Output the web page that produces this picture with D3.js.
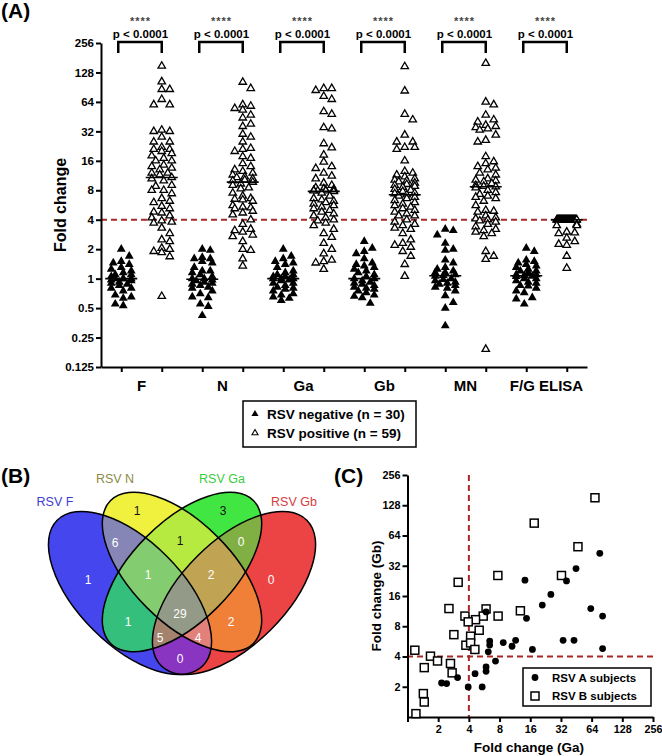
<!DOCTYPE html>
<html>
<head>
<meta charset="utf-8">
<script src="https://cdn.jsdelivr.net/npm/d3@7"></script>
<style>
  body { margin: 0; background: #fff; }
  svg { display: block; }
</style>
</head>
<body>
<div id="chart"></div>
<script>
var FONT = "Arial, 'Liberation Sans', Helvetica, sans-serif";

// ---- data, panel A (fold change per antigen)
var groups = ['F', 'N', 'Ga', 'Gb', 'MN', 'F/G ELISA'];
var legendA = ['RSV negative (n = 30)', 'RSV positive (n = 59)'];
var pText = 'p < 0.0001';
var starText = '****';
var yTicksA = [0.125, 0.25, 0.5, 1, 2, 4, 8, 16, 32, 64, 128, 256];
var cutoff = 4;

var fNeg = [2.0, 1.7, 1.5, 1.45, 1.4, 1.3, 1.25, 1.2, 1.15, 1.1, 1.1, 1.05, 1.0, 1.0, 1.0, 1.0, 0.97, 0.95, 0.92, 0.9, 0.88, 0.85, 0.8, 0.8, 0.75, 0.68, 0.65, 0.63, 0.55, 0.53];
var fPos = [149, 103, 86, 86, 68, 60, 60, 33, 32, 32, 28, 25, 25, 22, 21, 21, 20, 19, 18, 17, 16, 16, 14.5, 14, 13.5, 13, 12, 12, 11.5, 10.8, 10.5, 10, 9, 8.8, 8, 8, 7.4, 6.6, 6.2, 6, 5.5, 5.2, 4.8, 4.7, 4.4, 4.2, 3.9, 3.8, 3.7, 3.3, 2.9, 2.5, 2.4, 2.05, 2, 1.9, 1.85, 1.68, 0.66];
var nNeg = [2.0, 1.95, 1.65, 1.6, 1.6, 1.5, 1.45, 1.3, 1.2, 1.2, 1.15, 1.1, 1.05, 1.0, 1.0, 0.97, 0.95, 0.92, 0.9, 0.88, 0.85, 0.82, 0.8, 0.75, 0.7, 0.65, 0.64, 0.55, 0.52, 0.42];
var nPos = [102, 88, 60, 58, 55, 53, 47, 44, 38, 36, 30, 28, 25, 21.5, 21, 20, 17.7, 17, 15, 14, 13, 12.5, 12, 11.5, 11, 10.8, 10.5, 10.2, 10, 9.7, 9.3, 9, 8.5, 8.3, 7.5, 7, 6.6, 6.5, 6.4, 6.2, 5.6, 5.4, 5.3, 5.2, 4.9, 4.7, 4.5, 4.0, 3.6, 3.2, 3.1, 3.0, 2.8, 2.7, 2.4, 2.0, 1.95, 1.6, 1.35];
var gaNeg = [2.0, 1.7, 1.6, 1.5, 1.45, 1.4, 1.3, 1.2, 1.15, 1.1, 1.1, 1.05, 1.05, 1.0, 1.0, 1.0, 0.97, 0.95, 0.9, 0.9, 0.85, 0.82, 0.8, 0.78, 0.75, 0.7, 0.68, 0.65, 0.63, 0.6];
var gaPos = [88, 88, 84, 73, 68, 51, 48, 35, 34, 24, 21.8, 18.4, 15.6, 14, 13.4, 12, 11.2, 10.5, 9.5, 9, 8.5, 8.3, 8.2, 8, 8, 7.9, 7.9, 7.9, 7.9, 7.8, 7.5, 7, 6.6, 6.4, 6.2, 6, 5.8, 5.6, 5.4, 5.2, 5, 4.8, 4.6, 4.4, 4.2, 4.0, 3.9, 3.7, 3.5, 3.2, 2.9, 2.65, 2.3, 2.0, 1.8, 1.55, 1.5, 1.45, 1.25];
var gbNeg = [2.4, 2.05, 1.9, 1.8, 1.6, 1.45, 1.4, 1.35, 1.3, 1.25, 1.2, 1.15, 1.1, 1.05, 1.0, 1.0, 0.95, 0.92, 0.9, 0.88, 0.85, 0.82, 0.8, 0.78, 0.75, 0.72, 0.68, 0.66, 0.64, 0.56];
var gbPos = [147, 83, 48, 42, 29.4, 25, 25, 22, 22, 21, 16, 12.5, 12, 11.5, 11, 10.5, 10.2, 10, 9.8, 9.5, 9.2, 9, 8.8, 8.6, 8.2, 8, 7.8, 7.5, 7.4, 7.2, 7, 6.8, 6.6, 6.3, 6, 5.8, 5.6, 5.4, 5.2, 5, 4.8, 4.6, 4.4, 4.4, 4.0, 3.8, 3.6, 3.5, 3.3, 3.2, 2.9, 2.5, 2.3, 2.2, 2.1, 1.9, 1.7, 1.4, 1.06];
var mnNeg = [3.2, 3.1, 2.8, 2.3, 2.0, 1.95, 1.55, 1.45, 1.3, 1.25, 1.2, 1.15, 1.15, 1.1, 1.08, 1.06, 1.0, 0.98, 0.95, 0.92, 0.9, 0.88, 0.85, 0.82, 0.8, 0.75, 0.67, 0.57, 0.5, 0.33];
var mnPos = [159, 64, 60, 47, 42, 40, 37, 36, 35, 34, 33, 29.4, 26, 25, 17.7, 15.7, 15, 14, 13.5, 13, 12, 11.5, 10.5, 10.2, 10, 9.8, 9.4, 9, 8.8, 8.7, 8.5, 8, 7.6, 7.3, 7, 6.8, 6.6, 6.2, 5.6, 5, 4.9, 4.8, 4.4, 4.2, 4.1, 4, 3.9, 3.8, 3.6, 3.4, 3.2, 3.1, 3, 2.9, 2.7, 1.9, 1.7, 1.58, 0.19];
var elisaNeg = [2.05, 1.9, 1.55, 1.5, 1.45, 1.4, 1.35, 1.3, 1.25, 1.2, 1.2, 1.15, 1.1, 1.1, 1.08, 1.06, 1.05, 1.0, 1.0, 0.95, 0.92, 0.9, 0.85, 0.84, 0.8, 0.75, 0.72, 0.64, 0.62, 0.55];
var elisaPos = [4, 4, 4, 4, 4, 4, 4, 4, 4, 4, 4, 4, 4, 4, 4, 4, 4, 4, 4, 4, 4, 4, 4, 4, 4, 4, 4, 4, 4, 4, 4, 4, 4, 4, 4, 4, 4, 4, 4, 4, 4, 4, 4, 4, 4, 4, 4, 3.6, 3.5, 3.5, 3, 2.95, 2.9, 2.6, 2.4, 2.25, 2.2, 1.7, 1.28];

var negCols = [fNeg, nNeg, gaNeg, gbNeg, mnNeg, elisaNeg];
var posCols = [fPos, nPos, gaPos, gbPos, mnPos, elisaPos];

// ---- data, panel B (Venn counts, sets F N Ga Gb as bit flags)
var vennSets = ['RSV F', 'RSV N', 'RSV Ga', 'RSV Gb'];
var vennRegions = ['1000', '0100', '0010', '0001', '1100', '0110', '0011', '1010', '0101', '1001', '1110', '0111', '1101', '1011', '1111'];
var vennCounts = [1, 1, 3, 0, 6, 1, 0, 1, 2, 0, 1, 2, 4, 5, 29];

// ---- data, panel C (Ga vs Gb fold change)
var aGa = [77, 45, 36.3, 14.2, 25.5, 21, 62.8, 5.9, 82, 14.7, 6.4, 8.7, 11.5, 33.6, 43, 6.4, 10.6, 16.8, 82, 6.2, 7.3, 5.9, 5.9, 4.6, 3.1, 2.16, 2.42, 3.94, 5.4];
var aGb = [42.5, 30, 22.6, 23, 16.6, 13, 12, 11.1, 10.1, 9.6, 5.7, 5.5, 5.8, 5.8, 5.8, 5.2, 5.06, 4.7, 4.8, 4.45, 3.6, 3.15, 2.85, 2.7, 2.47, 2.18, 2.15, 1.99, 1.99];
var bGa = [69, 17.5, 47, 32.4, 7.7, 3.14, 2.55, 12.8, 5.9, 3.66, 5.53, 7.74, 4.65, 3.94, 5.05, 2.85, 4.16, 3.74, 4.16, 1.18, 4.58, 1.68, 1.97, 2.64, 1.46, 2.74, 1.43, 1.46, 1.21];
var bGb = [152, 85, 49.5, 25.6, 25.6, 21.9, 12, 11.4, 11.9, 10.1, 10.1, 10.1, 9.3, 8.85, 7.3, 6.6, 6.37, 5.18, 5.46, 4.62, 4.7, 4.03, 3.61, 3.41, 3.1, 2.75, 1.71, 1.41, 1.08];
var legendC = ['RSV A subjects', 'RSV B subjects'];
var ticksC = [1, 2, 4, 8, 16, 32, 64, 128, 256];

// ---- build
var W = 662, H = 756;
var svg = d3.select('#chart').append('svg')
  .attr('width', W)
  .attr('height', H)
  .attr('font-family', FONT)
  .style('background', 'white');
var defs = svg.append('defs');

function styleAxis(sel, fs) {
  sel.attr('font-family', FONT);
  sel.selectAll('path, line').attr('stroke', '#000').attr('stroke-width', 2);
  sel.selectAll('text').attr('font-size', fs).attr('font-weight', 'bold').attr('fill', '#000');
}

// spread points of one column sideways so markers don't sit on top of each other
function swarm(vals, cx, ys) {
  var mw = 8, mh = 7, maxOff = 10;
  var pts = vals.map(function(v) { return {v: v, y: ys(v)}; })
    .sort(function(a, b) { return a.y - b.y; });
  var placed = [];
  // big runs of identical values get packed across the full width
  var runs = d3.group(pts, function(p) { return p.v; });
  runs.forEach(function(run) {
    if (run.length < 6) return;
    run.forEach(function(p, i) {
      p.o = -maxOff + 2 * maxOff * i / (run.length - 1);
      placed.push(p);
    });
  });
  var cands = [0];
  for (var k = 1; k <= maxOff; k++) cands.push(k, -k);
  pts.forEach(function(p) {
    if (p.o !== undefined) return;
    var best = 0, bestCost = Infinity;
    for (var i = 0; i < cands.length; i++) {
      var o = cands[i], c = 0;
      placed.forEach(function(q) {
        var dx = Math.abs(o - q.o), dy = Math.abs(p.y - q.y);
        if (dx < mw && dy < mh) c += (mw - dx) * (mh - dy);
      });
      if (c < bestCost) { bestCost = c; best = o; }
      if (c === 0) break;
    }
    p.o = best;
    placed.push(p);
  });
  return placed.map(function(p) { return {x: cx + p.o, y: p.y}; });
}

// ===== Panel A
var yA = d3.scaleLog().base(2).domain([0.125, 256]).range([367, 43]);
var xA = d3.scaleLinear().domain([-0.5, 11.5]).range([101, 587]);
var gA = svg.append('g');

gA.append('line')
  .attr('x1', 101).attr('x2', 588)
  .attr('y1', yA(cutoff)).attr('y2', yA(cutoff))
  .attr('stroke', '#a82828')
  .attr('stroke-width', 2)
  .attr('stroke-dasharray', '6,4');

var axYA = gA.append('g')
  .attr('transform', 'translate(101,0)')
  .call(d3.axisLeft(yA).tickValues(yTicksA).tickFormat(function(d) { return d; }).tickSize(5).tickPadding(2).tickSizeOuter(0));
styleAxis(axYA, 11.5);

var axXA = gA.append('g')
  .attr('transform', 'translate(0,367)')
  .call(d3.axisBottom(xA).tickValues(d3.range(12)).tickFormat('').tickSize(5).tickSizeOuter(0));
styleAxis(axXA, 11);

gA.selectAll('.cat')
  .data(groups)
  .enter().append('text')
  .attr('x', function(d, i) { return xA(2 * i + 0.5); })
  .attr('y', 391)
  .attr('text-anchor', 'middle')
  .attr('font-size', 15)
  .attr('font-weight', 'bold')
  .text(function(d) { return d; });

gA.append('text')
  .attr('transform', 'translate(66,205) rotate(-90)')
  .attr('text-anchor', 'middle')
  .attr('font-size', 16)
  .attr('font-weight', 'bold')
  .text('Fold change');

var triFill = d3.symbol().type(d3.symbolTriangle).size(34);
var triOpen = d3.symbol().type(d3.symbolTriangle).size(24);

groups.forEach(function(g, i) {
  var xn = xA(2 * i), xp = xA(2 * i + 1);
  gA.append('g').selectAll('path')
    .data(swarm(negCols[i], xn, yA))
    .enter().append('path')
    .attr('d', triFill)
    .attr('transform', function(d) { return 'translate(' + d.x + ',' + d.y + ')'; })
    .attr('fill', '#000');
  gA.append('g').selectAll('path')
    .data(swarm(posCols[i], xp, yA))
    .enter().append('path')
    .attr('d', triOpen)
    .attr('transform', function(d) { return 'translate(' + d.x + ',' + d.y + ')'; })
    .attr('fill', '#fff')
    .attr('stroke', '#000')
    .attr('stroke-width', 1.3);
  [[xn, d3.median(negCols[i])], [xp, d3.median(posCols[i])]].forEach(function(m) {
    gA.append('line')
      .attr('x1', m[0] - 16).attr('x2', m[0] + 16)
      .attr('y1', yA(m[1])).attr('y2', yA(m[1]))
      .attr('stroke', '#000').attr('stroke-width', 1.6);
  });
  // significance bracket
  gA.append('path')
    .attr('d', 'M' + (xn - 3) + ',53V42H' + xp + 'V53')
    .attr('fill', 'none')
    .attr('stroke', '#000')
    .attr('stroke-width', 2.5);
  gA.append('text')
    .attr('x', (xn + xp) / 2 - 1).attr('y', 38)
    .attr('text-anchor', 'middle')
    .attr('font-size', 11.5).attr('font-weight', 'bold')
    .text(pText);
  gA.append('text')
    .attr('x', (xn + xp) / 2 - 1).attr('y', 25)
    .attr('text-anchor', 'middle')
    .attr('font-size', 11).attr('font-weight', 'bold')
    .attr('letter-spacing', 1)
    .attr('fill', '#444')
    .text(starText);
});

// legend A
var lgA = gA.append('g');
lgA.append('rect')
  .attr('x', 243).attr('y', 401).attr('width', 173).attr('height', 46)
  .attr('fill', '#fff').attr('stroke', '#000').attr('stroke-width', 1.5);
legendA.forEach(function(t, i) {
  lgA.append('path')
    .attr('d', d3.symbol().type(d3.symbolTriangle).size(i ? 16 : 22)())
    .attr('transform', 'translate(255,' + (414 + 19 * i) + ')')
    .attr('fill', i ? '#fff' : '#000')
    .attr('stroke', i ? '#000' : 'none')
    .attr('stroke-width', 1.1);
  lgA.append('text')
    .attr('x', 267).attr('y', 419 + 19 * i)
    .attr('font-size', 13.5).attr('font-weight', 'bold')
    .text(t);
});

// ===== Panel B (Venn), ellipses in page pixels
var ell = [
  {cx: 130, cy: 593, a: 103, b: 52, rot: 45},
  {cx: 182, cy: 572, a: 101, b: 50, rot: 45},
  {cx: 182, cy: 572, a: 101, b: 50, rot: -45},
  {cx: 234, cy: 593, a: 103, b: 52, rot: -45}
];
var regionColor = {
  '1000': '#4646ee', '0100': '#f0f03e', '0010': '#42e642', '0001': '#ec4444',
  '1100': '#8686b6', '0110': '#b6ea40', '0011': '#80b044', '1010': '#34c07c',
  '0101': '#f08038', '1001': '#8a34c2', '1110': '#84cc70', '0111': '#c0a454',
  '1101': '#e2807a', '1011': '#a3836e', '1111': '#939a88'
};
var labelPos = {
  '1000': [88, 580], '0100': [137, 511], '0010': [223, 511], '0001': [271, 580],
  '1100': [115, 543], '0110': [180, 541], '0011': [241, 542], '1010': [128, 622],
  '0101': [231, 622], '1001': [180, 659], '1110': [148, 575], '0111': [211, 575],
  '1101': [198, 638], '1011': [160, 638], '1111': [180, 614]
};
var setLabelPos = [[55, 506], [115, 483], [222, 483], [294, 506]];
var setLabelColor = ['#3c3cd2', '#8e8a48', '#3ccc3c', '#d63c3c'];
var darkText = {'0100': 1, '0010': 1, '0110': 1};

function ellAttrs(sel, e) {
  sel.attr('cx', e.cx).attr('cy', e.cy).attr('rx', e.a).attr('ry', e.b)
    .attr('transform', 'rotate(' + e.rot + ',' + e.cx + ',' + e.cy + ')');
}
ell.forEach(function(e, i) {
  defs.append('clipPath').attr('id', 'vc' + i).append('ellipse').call(ellAttrs, e);
});

var gV = svg.append('g');
var order = vennRegions.slice().sort(function(a, b) {
  return a.split('1').length - b.split('1').length;
});
order.forEach(function(key) {
  var idx = [];
  key.split('').forEach(function(c, i) { if (c === '1') idx.push(i); });
  var g = gV;
  for (var k = 1; k < idx.length; k++) g = g.append('g').attr('clip-path', 'url(#vc' + idx[k] + ')');
  g.append('ellipse').call(ellAttrs, ell[idx[0]]).attr('fill', regionColor[key]);
});
ell.forEach(function(e) {
  gV.append('ellipse').call(ellAttrs, e)
    .attr('fill', 'none').attr('stroke', '#000').attr('stroke-width', 1.5);
});

vennRegions.forEach(function(key, i) {
  svg.append('text')
    .attr('x', labelPos[key][0]).attr('y', labelPos[key][1])
    .attr('dy', '0.35em')
    .attr('text-anchor', 'middle')
    .attr('font-size', 12)
    .attr('fill', darkText[key] ? '#111' : '#fff')
    .text(vennCounts[i]);
});
vennSets.forEach(function(s, i) {
  svg.append('text')
    .attr('x', setLabelPos[i][0]).attr('y', setLabelPos[i][1])
    .attr('text-anchor', 'middle')
    .attr('font-size', 12.5)
    .attr('fill', setLabelColor[i])
    .text(s);
});

// ===== Panel C
var xC = d3.scaleLog().base(2).domain([1, 256]).range([407.5, 653]);
var yC = d3.scaleLog().base(2).domain([1, 256]).range([717, 475]);
var gC = svg.append('g');

gC.append('line')
  .attr('x1', xC(cutoff)).attr('x2', xC(cutoff))
  .attr('y1', 475).attr('y2', 717)
  .attr('stroke', '#a82828').attr('stroke-width', 2).attr('stroke-dasharray', '6,4');
gC.append('line')
  .attr('x1', 407).attr('x2', 657)
  .attr('y1', yC(cutoff)).attr('y2', yC(cutoff))
  .attr('stroke', '#a82828').attr('stroke-width', 2).attr('stroke-dasharray', '6,4');

var axYC = gC.append('g')
  .attr('transform', 'translate(407.5,0)')
  .call(d3.axisLeft(yC).tickValues(ticksC.slice(1)).tickFormat(function(d) { return d; }).tickSize(5).tickPadding(2).tickSizeOuter(0));
styleAxis(axYC, 10.8);
var axXC = gC.append('g')
  .attr('transform', 'translate(0,717)')
  .call(d3.axisBottom(xC).tickValues(ticksC).tickFormat(function(d) { return d === 1 ? '' : d; }).tickSize(5).tickPadding(3).tickSizeOuter(0));
styleAxis(axXC, 10.8);

gC.append('text')
  .attr('x', 529).attr('y', 752)
  .attr('text-anchor', 'middle')
  .attr('font-size', 13.5).attr('font-weight', 'bold')
  .text('Fold change (Ga)');
gC.append('text')
  .attr('transform', 'translate(381,596) rotate(-90)')
  .attr('text-anchor', 'middle')
  .attr('font-size', 13.5).attr('font-weight', 'bold')
  .text('Fold change (Gb)');

gC.append('g').selectAll('rect')
  .data(bGa)
  .enter().append('rect')
  .attr('x', function(d) { return xC(d) - 4; })
  .attr('y', function(d, i) { return yC(bGb[i]) - 4; })
  .attr('width', 8).attr('height', 8)
  .attr('fill', '#fff').attr('stroke', '#000').attr('stroke-width', 1.5);
gC.append('g').selectAll('circle')
  .data(aGa)
  .enter().append('circle')
  .attr('cx', function(d) { return xC(d); })
  .attr('cy', function(d, i) { return yC(aGb[i]); })
  .attr('r', 3.4)
  .attr('fill', '#000');

var lgC = gC.append('g');
lgC.append('rect')
  .attr('x', 523).attr('y', 668).attr('width', 128).attr('height', 38)
  .attr('fill', '#fff').attr('stroke', '#000').attr('stroke-width', 1.5);
lgC.append('circle').attr('cx', 535).attr('cy', 677.5).attr('r', 3.4).attr('fill', '#000');
lgC.append('rect').attr('x', 531).attr('y', 692).attr('width', 8).attr('height', 8)
  .attr('fill', '#fff').attr('stroke', '#000').attr('stroke-width', 1.5);
legendC.forEach(function(t, i) {
  lgC.append('text')
    .attr('x', 552).attr('y', 681.5 + 18 * i)
    .attr('font-size', 11.5).attr('font-weight', 'bold')
    .text(t);
});

// panel letters
[['(A)', 1, 18], ['(B)', 1, 483], ['(C)', 334, 483]].forEach(function(p) {
  svg.append('text')
    .attr('x', p[1]).attr('y', p[2])
    .attr('font-size', 21).attr('font-weight', 'bold')
    .text(p[0]);
});
</script>
</body>
</html>
